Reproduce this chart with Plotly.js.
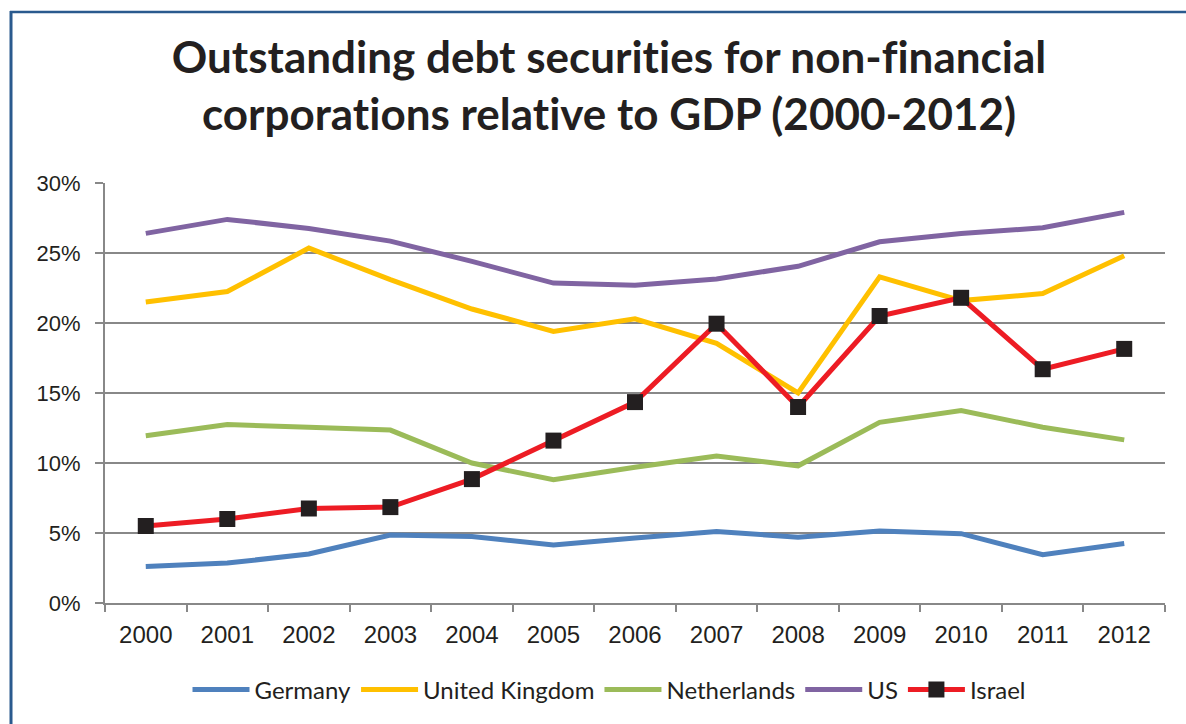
<!DOCTYPE html>
<html>
<head>
<meta charset="utf-8">
<script src="https://cdn.plot.ly/plotly-3.0.1.min.js"></script>
<style>
html,body{margin:0;padding:0;background:#fff;}
#chart{width:1186px;height:724px;}
#chart text{font-variant-ligatures:none;font-feature-settings:"liga" 0;}
</style>
</head>
<body>
<div id="chart"></div>
<script>
const years = ['2000','2001','2002','2003','2004','2005','2006','2007','2008','2009','2010','2011','2012'];
const germany = [2.6, 2.85, 3.5, 4.85, 4.75, 4.15, 4.65, 5.1, 4.7, 5.15, 4.95, 3.45, 4.25];
const unitedKingdom = [21.5, 22.25, 25.35, 23.1, 21.0, 19.4, 20.3, 18.55, 15.0, 23.3, 21.6, 22.1, 24.8];
const netherlands = [11.95, 12.75, 12.55, 12.35, 10.0, 8.8, 9.7, 10.5, 9.8, 12.9, 13.75, 12.55, 11.65];
const us = [26.4, 27.4, 26.75, 25.85, 24.4, 22.85, 22.7, 23.15, 24.05, 25.8, 26.4, 26.8, 27.9];
const israel = [5.5, 6.0, 6.75, 6.85, 8.85, 11.6, 14.35, 19.95, 14.0, 20.5, 21.8, 16.7, 18.15];

const seriesNames = ['Germany', 'United Kingdom', 'Netherlands', 'US', 'Israel'];
const seriesColors = ['#4F81BD', '#FFC000', '#9BBB59', '#8064A2', '#ED1C24'];
const seriesData = [germany, unitedKingdom, netherlands, us, israel];

const titleFont = 'Lato, "Open Sans", sans-serif';
const tickFont = '"Liberation Sans", Arial, sans-serif';

const traces = seriesData.map((vals, i) => {
  const t = {
    x: years, y: vals, name: seriesNames[i], type: 'scatter',
    mode: seriesNames[i] === 'Israel' ? 'lines+markers' : 'lines',
    line: {color: seriesColors[i], width: 5}
  };
  if (seriesNames[i] === 'Israel') {
    t.marker = {symbol: 'square', size: 16, color: '#231F20', line: {width: 0}};
  }
  return t;
});

// pixel -> paper helpers (plot area: x 105..1165, y 183..603)
const px = v => (v - 105) / 1060;
const py = v => (603 - v) / 420;

const layout = {
  width: 1186, height: 724,
  paper_bgcolor: '#fff', plot_bgcolor: '#fff',
  margin: {l: 105, r: 21, t: 183, b: 121},
  font: {family: titleFont, color: '#231F20'},
  title: {
    text: 'Outstanding debt securities for non-financial<br>corporations relative to GDP (2000-2012)',
    font: {family: titleFont, size: 44, color: '#231F20', weight: 'bold'},
    x: 609 / 1186, xanchor: 'center',
    y: 1 - 73 / 724, yanchor: 'middle', yref: 'container'
  },
  xaxis: {
    type: 'category', range: [-0.5, 12.5],
    showgrid: false, showline: true, linecolor: '#888', linewidth: 2,
    ticks: 'outside', tickson: 'boundaries', ticklen: 7, tickwidth: 2, tickcolor: '#888',
    tickfont: {family: tickFont, size: 24, color: '#231F20'},
    ticklabelstandoff: 9, fixedrange: true
  },
  yaxis: {
    range: [0, 30], dtick: 5, ticksuffix: '%',
    showgrid: true, gridcolor: '#888', gridwidth: 2,
    showline: true, linecolor: '#888', linewidth: 2,
    ticks: 'outside', ticklen: 8, tickwidth: 2, tickcolor: '#888',
    tickfont: {family: tickFont, size: 22, color: '#231F20'},
    ticklabelstandoff: 10, zeroline: false, fixedrange: true
  },
  legend: {
    orientation: 'h', x: px(609), xanchor: 'center', y: py(690), yanchor: 'middle',
    font: {family: titleFont, size: 24, color: '#231F20'},
    itemwidth: 57, traceorder: 'normal', tracegroupgap: 0
  },
  showlegend: true,
  shapes: [
    {type: 'line', xref: 'paper', yref: 'paper', x0: px(11), x1: px(11), y0: py(11), y1: py(730), line: {color: '#2A5A8E', width: 3}},
    {type: 'line', xref: 'paper', yref: 'paper', x0: px(10), x1: px(1190), y0: py(12), y1: py(12), line: {color: '#2A5A8E', width: 2.5}}
  ]
};

Plotly.newPlot('chart', traces, layout, {displayModeBar: false, staticPlot: true});
</script>
</body>
</html>
